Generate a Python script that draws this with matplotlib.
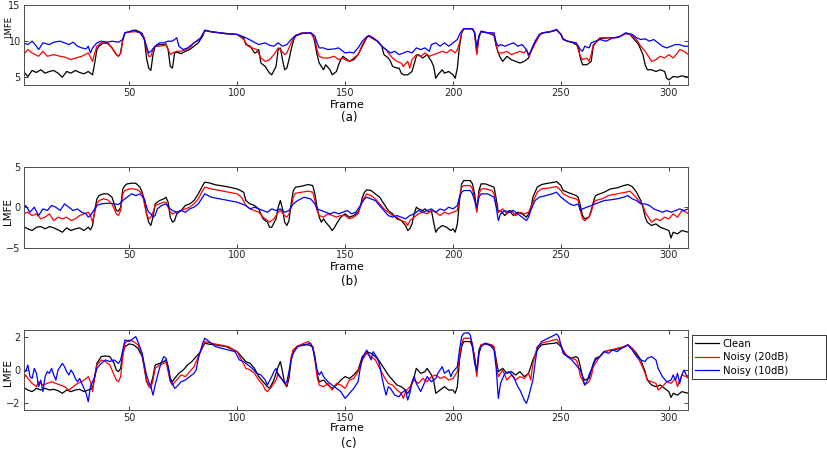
import matplotlib
matplotlib.use('Agg')
import matplotlib.pyplot as plt

# (frame, LMFE), one list per curve
a_clean = [(1,5.81),(3,5.12),(5,5.95),(7,5.67),(9,6.05),(11,5.58),(13,5.81),(15,5.95),(17,5.58),(19,5.02),(21,5.81),(23,5.58),(25,5.95),(27,5.67),(29,5.49),(31,5.81),(33,5.35),(34,6.98),(35,8.84),(36,9.30),(38,9.77),(40,9.67),(42,9.07),(44,8.14),(45,7.91),(46,8.37),(47,10.23),(48,11.16),(50,11.30),(53,11.53),(55,11.26),(56,11.07),(57,10.23),(58,7.67),(59,6.28),(60,5.95),(61,8.14),(62,9.30),(64,9.53),(66,9.53),(67,9.63),(68,8.84),(69,6.51),(70,6.28),(71,8.37),(72,8.47),(74,8.28),(76,8.60),(78,8.84),(80,9.30),(82,9.77),(84,10.70),(85,11.49),(88,11.30),(92,11.16),(95,11.07),(100,10.93),(103,10.47),(104,9.53),(106,9.30),(108,8.37),(109,8.47),(110,8.84),(111,6.98),(113,6.51),(115,5.58),(116,5.35),(118,6.51),(119,8.84),(120,9.07),(121,7.44),(122,6.05),(123,6.28),(124,7.44),(125,8.84),(126,10.0),(127,10.70),(130,11.07),(134,11.16),(135,10.93),(136,9.77),(137,8.14),(138,6.98),(140,6.05),(141,6.74),(143,6.05),(144,5.35),(146,5.81),(147,6.74),(148,7.44),(149,7.91),(150,7.67),(152,7.21),(154,7.44),(156,8.14),(158,9.30),(160,10.47),(161,10.70),(163,10.33),(165,10.0),(167,9.30),(168,8.14),(170,7.67),(171,7.21),(172,6.51),(174,6.28),(175,6.28),(176,5.58),(177,5.35),(179,5.35),(181,5.81),(183,7.91),(184,8.14),(186,7.67),(188,8.14),(189,7.67),(190,7.21),(191,6.51),(192,4.88),(193,5.35),(195,6.05),(196,5.58),(198,5.81),(200,5.35),(201,4.88),(202,6.28),(203,9.30),(204,11.16),(205,11.72),(209,11.72),(210,11.16),(211,8.37),(212,10.70),(213,11.40),(216,11.16),(219,10.79),(220,9.30),(221,8.37),(222,7.67),(223,7.21),(225,7.91),(227,7.44),(229,7.21),(231,6.98),(233,7.21),(235,7.67),(237,9.30),(239,10.23),(240,10.93),(242,11.16),(245,11.30),(248,11.53),(250,10.93),(251,10.23),(253,10.0),(255,9.86),(257,9.53),(258,9.30),(259,7.67),(260,6.74),(262,6.74),(264,7.21),(265,9.30),(266,9.77),(268,10.33),(272,10.47),(275,10.47),(277,10.60),(280,11.07),(282,10.93),(284,10.23),(286,9.53),(288,8.14),(289,6.74),(290,6.05),(292,6.05),(294,5.81),(296,6.05),(298,5.81),(299,4.88),(300,4.65),(302,5.12),(304,5.02),(306,5.21),(309,5.02)]
a_noisy20 = [(1,8.14),(3,8.84),(5,8.37),(8,7.91),(10,8.60),(12,7.91),(15,8.14),(18,7.91),(20,7.81),(23,7.44),(25,7.67),(28,7.91),(31,8.37),(33,7.21),(34,8.37),(35,9.30),(37,9.77),(40,9.77),(42,9.07),(44,8.14),(45,7.91),(46,8.37),(47,10.23),(48,11.16),(50,11.26),(53,11.30),(55,11.16),(57,10.47),(58,8.84),(59,7.91),(60,7.91),(61,8.84),(62,9.30),(64,9.30),(66,9.40),(67,9.53),(68,8.84),(69,8.14),(70,8.37),(72,8.60),(74,8.60),(76,8.84),(78,9.07),(80,9.77),(83,10.47),(85,11.40),(88,11.30),(95,11.02),(100,10.93),(103,10.23),(105,9.30),(107,9.07),(109,8.84),(111,7.67),(113,7.21),(115,7.44),(117,8.14),(119,9.07),(120,8.84),(122,8.14),(123,8.37),(125,9.77),(127,10.79),(130,11.16),(134,11.16),(136,10.23),(137,8.84),(138,7.91),(140,7.67),(142,7.67),(145,7.91),(147,7.44),(149,7.67),(150,7.44),(152,7.21),(154,7.67),(156,8.14),(158,9.53),(160,10.56),(161,10.70),(163,10.33),(165,10.0),(167,9.30),(169,8.84),(170,8.37),(172,7.67),(174,7.21),(176,6.98),(177,6.51),(179,7.21),(180,6.28),(181,7.44),(183,8.14),(185,7.91),(187,8.37),(189,7.91),(191,8.14),(193,8.37),(195,8.60),(197,8.37),(199,8.84),(201,8.37),(202,8.84),(203,9.77),(204,11.16),(205,11.72),(209,11.72),(210,11.16),(211,8.14),(212,10.47),(213,11.30),(216,11.16),(219,10.93),(220,9.53),(221,8.37),(223,8.37),(225,8.60),(227,8.14),(229,8.37),(231,8.60),(233,8.37),(234,8.84),(235,7.91),(237,9.07),(239,10.23),(241,11.16),(245,11.30),(248,11.53),(250,10.93),(251,10.23),(253,10.0),(257,9.77),(258,8.84),(259,7.91),(260,7.44),(262,7.67),(263,7.21),(264,8.14),(265,9.53),(266,9.77),(268,10.47),(272,10.47),(276,10.47),(280,11.07),(283,10.79),(285,10.23),(287,9.30),(289,8.60),(290,8.14),(292,7.21),(294,7.44),(296,7.91),(298,7.67),(300,8.14),(302,7.67),(304,8.37),(305,8.84),(307,8.60),(309,8.14)]
a_noisy10 = [(1,9.77),(3,9.53),(5,10.0),(7,9.30),(8,8.84),(10,9.77),(13,9.53),(15,9.86),(18,10.0),(20,9.77),(22,9.53),(24,9.86),(26,9.30),(28,9.07),(30,8.93),(31,9.30),(32,8.37),(33,9.07),(35,9.77),(37,10.0),(40,9.86),(42,10.0),(45,9.86),(47,10.23),(48,11.16),(50,11.30),(52,11.53),(55,11.16),(57,10.23),(58,9.30),(59,8.37),(60,8.60),(62,9.30),(64,9.77),(66,9.77),(68,10.0),(70,10.0),(72,10.47),(73,9.30),(75,8.84),(77,9.07),(80,9.77),(83,10.33),(85,11.53),(88,11.30),(95,11.02),(100,10.93),(103,10.60),(105,10.33),(107,10.0),(110,9.53),(113,9.77),(115,9.44),(117,9.30),(119,9.77),(121,9.30),(123,9.53),(125,10.23),(127,10.79),(130,11.07),(134,11.16),(136,10.70),(137,9.77),(138,9.07),(140,9.07),(142,8.84),(145,8.93),(147,9.07),(149,8.60),(150,8.37),(152,8.47),(154,8.37),(156,9.07),(158,10.0),(160,10.60),(161,10.79),(163,10.47),(165,10.0),(167,9.30),(169,8.84),(171,8.37),(173,8.60),(175,8.14),(177,8.37),(179,8.60),(181,8.37),(183,9.07),(185,8.84),(187,9.07),(189,8.60),(190,9.53),(192,9.77),(194,9.30),(196,9.77),(198,9.30),(200,9.77),(202,10.23),(203,10.93),(204,11.40),(205,11.72),(209,11.72),(210,11.16),(211,9.30),(212,10.70),(213,11.30),(216,11.16),(219,11.16),(220,9.77),(221,9.30),(222,9.53),(224,9.30),(226,9.53),(228,9.77),(230,9.30),(232,9.53),(234,8.84),(235,8.14),(236,8.60),(238,10.0),(240,10.93),(242,11.16),(245,11.30),(248,11.63),(250,10.93),(251,10.33),(253,10.0),(255,9.86),(257,9.77),(259,8.84),(260,8.60),(261,9.30),(263,9.07),(264,9.77),(266,10.0),(268,10.23),(271,10.0),(274,10.47),(277,10.60),(280,11.16),(283,10.93),(285,10.47),(287,10.23),(289,10.33),(291,10.0),(293,10.23),(295,9.77),(297,9.30),(299,9.07),(301,9.30),(303,9.53),(305,9.53),(307,9.30),(309,9.30)]

b_clean = [(1,-2.39),(3,-2.67),(5,-2.88),(7,-2.47),(9,-2.39),(11,-2.67),(13,-2.39),(15,-2.55),(17,-2.80),(19,-3.09),(21,-2.55),(23,-2.88),(25,-2.67),(27,-2.55),(29,-2.88),(31,-2.47),(32,-2.80),(33,-2.26),(34,-0.41),(35,1.03),(36,1.44),(38,1.65),(40,1.65),(42,1.23),(43,0.41),(44,-0.41),(45,-0.49),(46,0.0),(47,2.26),(48,2.67),(49,2.88),(51,2.96),(53,2.96),(55,2.47),(56,1.85),(57,0.82),(58,-0.82),(59,-1.85),(60,-2.26),(61,-1.23),(62,0.41),(63,0.62),(64,0.82),(66,1.03),(67,1.23),(68,0.62),(69,-1.23),(70,-1.85),(71,-1.65),(72,-0.82),(74,-0.41),(76,0.21),(78,0.41),(80,0.82),(82,1.65),(84,2.67),(85,3.09),(87,3.00),(90,2.76),(95,2.55),(100,2.26),(103,1.85),(104,0.82),(106,0.41),(108,0.21),(110,-0.21),(112,-1.44),(114,-1.85),(115,-2.47),(116,-2.47),(118,-1.44),(119,0.0),(120,0.82),(121,-0.21),(122,-1.85),(123,-2.26),(124,-1.65),(125,0.41),(126,2.06),(127,2.47),(129,2.55),(131,2.67),(133,2.80),(135,2.67),(136,1.65),(137,0.0),(138,-1.23),(139,-1.85),(140,-1.44),(141,-1.85),(143,-2.47),(144,-2.88),(145,-2.55),(146,-2.06),(148,-1.23),(150,-0.82),(152,-1.23),(154,-1.03),(156,-0.62),(157,0.0),(158,1.23),(159,1.85),(160,2.14),(162,2.06),(164,1.65),(166,1.23),(168,0.41),(170,-0.41),(172,-0.82),(174,-1.44),(176,-1.65),(178,-2.26),(179,-2.88),(180,-2.67),(181,-2.06),(182,-0.82),(183,0.0),(184,-0.21),(186,-0.41),(187,-0.21),(189,-0.62),(190,-0.41),(191,-1.85),(192,-3.09),(193,-2.67),(195,-2.26),(197,-2.47),(199,-2.88),(200,-2.67),(201,-3.09),(202,-2.06),(203,0.82),(204,2.88),(205,3.29),(208,3.29),(209,2.88),(210,1.65),(211,-0.41),(212,2.06),(213,2.88),(215,2.88),(217,2.67),(219,2.47),(220,1.03),(221,-0.62),(222,-0.41),(224,-1.03),(226,-0.41),(228,-1.03),(230,-0.62),(232,-0.82),(234,-1.23),(235,-0.82),(236,-0.21),(237,1.23),(239,2.47),(241,2.80),(244,2.96),(247,3.09),(248,3.17),(250,2.67),(251,2.06),(253,1.85),(255,1.65),(257,1.44),(258,1.23),(259,0.21),(260,-1.03),(261,-1.44),(263,-1.23),(264,-0.41),(265,0.62),(266,1.44),(268,1.65),(270,1.85),(273,2.26),(276,2.39),(279,2.67),(281,2.80),(283,2.55),(285,1.85),(287,0.82),(288,0.0),(289,-1.23),(290,-1.85),(292,-2.26),(294,-2.06),(296,-2.47),(298,-2.67),(300,-2.88),(301,-3.79),(302,-3.09),(304,-3.29),(306,-2.88),(309,-3.09)]
b_noisy20 = [(1,-0.82),(3,-0.62),(5,-1.03),(7,-0.82),(9,-1.44),(11,-1.23),(13,-0.82),(15,-1.65),(17,-1.23),(19,-1.44),(21,-1.23),(23,-1.65),(25,-1.44),(27,-1.03),(29,-0.82),(31,-0.62),(32,-1.03),(33,-1.85),(34,-0.62),(35,0.41),(36,0.82),(38,1.03),(40,0.91),(42,0.41),(44,-0.82),(45,-1.03),(46,-0.41),(47,1.65),(48,2.06),(50,2.26),(52,2.26),(54,2.14),(56,1.65),(57,0.41),(58,-0.82),(59,-1.44),(60,-1.23),(61,-0.62),(62,0.21),(64,0.41),(66,0.62),(67,0.62),(68,0.0),(69,-0.62),(70,-0.82),(72,-0.62),(74,-0.41),(76,-0.21),(78,0.0),(80,0.41),(82,1.03),(84,2.06),(85,2.47),(88,2.26),(92,2.06),(96,1.85),(100,1.65),(102,1.23),(104,0.21),(106,-0.21),(108,-0.41),(110,-0.62),(112,-1.23),(114,-1.65),(115,-1.85),(117,-1.44),(119,-0.62),(120,-0.41),(122,-1.03),(123,-1.23),(124,-0.82),(125,0.0),(126,1.23),(127,1.73),(130,1.85),(133,1.98),(135,1.85),(136,0.82),(137,-0.41),(138,-1.03),(140,-1.23),(142,-0.82),(144,-1.03),(146,-1.23),(148,-1.03),(150,-1.03),(152,-1.44),(154,-1.23),(156,-0.82),(158,0.82),(160,1.65),(162,1.44),(164,1.03),(166,0.41),(168,-0.21),(170,-0.62),(172,-1.03),(174,-1.23),(176,-1.65),(178,-1.85),(179,-2.26),(180,-1.65),(182,-1.23),(184,-0.82),(186,-0.62),(188,-0.82),(190,-0.41),(192,-0.62),(194,-1.03),(196,-0.62),(198,-0.82),(200,-0.62),(202,-0.41),(203,1.23),(204,2.47),(205,2.67),(208,2.67),(209,2.26),(210,1.03),(211,-0.62),(212,1.65),(213,2.26),(215,2.26),(218,2.06),(219,1.65),(220,0.21),(221,-0.62),(223,-0.21),(225,-0.82),(227,-0.41),(229,-1.03),(231,-0.62),(233,-0.82),(235,-0.62),(237,0.62),(239,1.85),(241,2.26),(245,2.39),(248,2.55),(250,2.06),(251,1.65),(254,1.23),(257,1.03),(258,0.82),(259,-0.41),(260,-1.44),(261,-1.65),(263,-1.23),(264,-0.62),(265,0.41),(266,0.82),(269,1.03),(272,1.44),(276,1.65),(280,1.85),(282,1.98),(284,1.44),(286,0.82),(288,0.21),(289,-0.62),(290,-1.03),(292,-1.85),(294,-1.44),(296,-1.65),(298,-1.23),(300,-1.44),(302,-0.82),(304,-1.23),(306,-0.41),(308,-0.62),(309,-0.82)]
b_noisy10 = [(1,-0.21),(2,0.21),(4,-0.62),(6,0.0),(8,-1.03),(10,-0.21),(12,-0.41),(14,0.21),(16,0.0),(18,-0.41),(20,0.41),(22,0.0),(24,-0.41),(26,-0.21),(28,-0.62),(30,-0.82),(31,-1.23),(32,-1.03),(33,-0.62),(35,0.21),(37,0.41),(40,0.49),(43,0.41),(45,0.33),(47,0.82),(49,1.23),(51,1.65),(53,1.44),(55,1.65),(57,1.03),(58,0.0),(59,-0.62),(60,-0.82),(61,-1.23),(62,-1.03),(63,-0.21),(65,0.21),(67,0.41),(69,-0.21),(70,-0.41),(72,-0.62),(74,-0.41),(76,-0.62),(78,-0.21),(80,0.0),(82,0.41),(84,1.23),(85,1.65),(88,1.23),(92,1.03),(96,0.82),(100,0.62),(102,0.41),(104,0.21),(106,-0.21),(108,0.0),(110,-0.21),(112,-0.41),(114,-0.62),(116,-0.21),(118,-0.41),(120,-0.21),(122,-0.62),(124,-0.41),(126,0.41),(128,0.82),(131,1.23),(134,1.03),(136,0.41),(137,-0.21),(139,-0.41),(141,-0.62),(143,-0.82),(145,-0.62),(147,-0.82),(149,-0.62),(151,-0.41),(153,-0.82),(155,-0.62),(157,0.21),(159,1.03),(160,1.23),(162,1.03),(164,0.82),(166,0.21),(168,-0.41),(170,-1.03),(172,-1.23),(174,-1.03),(176,-1.23),(178,-1.44),(180,-1.03),(182,-0.82),(184,-0.41),(186,-0.62),(188,-0.41),(190,-0.21),(192,-0.62),(194,-0.21),(196,-0.41),(198,0.0),(200,-0.21),(202,0.21),(203,1.23),(204,1.85),(205,2.06),(208,2.06),(209,1.65),(210,0.82),(211,0.0),(212,1.23),(213,1.65),(216,1.65),(219,1.23),(220,0.0),(221,-1.65),(222,-0.82),(224,-0.41),(226,-0.62),(228,-0.41),(230,-0.82),(232,-1.23),(234,-1.65),(235,-1.23),(236,-0.41),(238,0.82),(240,1.23),(243,1.44),(246,1.65),(248,1.85),(250,1.23),(252,0.82),(254,0.41),(256,0.21),(258,0.41),(259,-0.41),(260,-0.21),(262,0.0),(264,0.21),(266,0.41),(268,0.62),(270,0.82),(273,0.91),(276,1.03),(279,1.23),(281,1.44),(283,1.03),(285,0.82),(287,0.41),(289,0.41),(291,0.21),(293,-0.21),(295,-0.41),(297,-0.62),(299,-0.41),(301,-0.62),(303,-0.41),(305,-0.21),(307,-0.41),(309,-0.21)]

c_clean = [(1,-1.05),(3,-1.21),(5,-1.31),(7,-1.11),(9,-1.21),(11,-1.11),(13,-1.21),(15,-1.17),(17,-1.25),(19,-1.41),(21,-1.21),(23,-1.31),(25,-1.21),(27,-1.17),(29,-1.31),(31,-1.21),(33,-1.11),(34,-0.40),(35,0.40),(37,0.81),(39,0.85),(41,0.81),(43,0.40),(44,0.0),(45,-0.10),(46,0.10),(47,1.01),(48,1.41),(50,1.58),(52,1.52),(54,1.31),(56,0.81),(57,0.10),(58,-0.71),(59,-0.91),(60,-0.91),(61,-0.40),(62,0.30),(64,0.40),(66,0.51),(67,0.61),(68,0.20),(69,-0.51),(70,-0.71),(71,-0.51),(73,-0.20),(75,0.0),(77,0.30),(79,0.51),(81,0.81),(83,1.11),(85,1.62),(87,1.56),(90,1.52),(95,1.41),(100,1.11),(102,0.81),(104,0.51),(106,0.40),(108,0.10),(110,-0.40),(112,-0.71),(114,-1.01),(115,-1.11),(117,-0.61),(119,0.20),(120,0.51),(121,-0.10),(122,-0.81),(123,-1.01),(124,-0.51),(125,0.61),(126,1.21),(128,1.45),(130,1.52),(133,1.52),(135,1.41),(136,0.81),(137,-0.20),(138,-0.71),(140,-0.61),(142,-0.91),(144,-1.11),(146,-0.91),(148,-0.61),(150,-0.40),(152,-0.51),(154,-0.30),(156,0.0),(158,0.81),(160,1.11),(162,1.01),(164,0.81),(166,0.51),(168,0.10),(170,-0.30),(172,-0.61),(174,-0.91),(176,-1.01),(178,-1.21),(179,-1.41),(180,-1.21),(182,-0.40),(183,0.10),(185,-0.20),(187,-0.10),(188,0.10),(190,-0.30),(191,-0.61),(192,-1.41),(194,-1.21),(196,-1.01),(198,-1.21),(200,-1.21),(201,-1.41),(202,-1.01),(203,0.61),(204,1.41),(205,1.72),(208,1.72),(209,1.41),(210,0.81),(211,-0.20),(212,1.21),(213,1.52),(215,1.58),(218,1.45),(219,1.37),(220,0.61),(221,-0.10),(223,0.10),(225,-0.20),(227,-0.10),(229,-0.30),(231,-0.10),(233,-0.40),(235,-0.20),(237,0.61),(239,1.21),(241,1.52),(244,1.58),(247,1.62),(248,1.66),(250,1.41),(252,0.91),(255,0.71),(257,0.81),(258,0.71),(259,0.20),(260,-0.40),(261,-0.61),(263,-0.51),(265,0.40),(266,0.71),(268,0.81),(270,1.11),(273,1.21),(276,1.25),(279,1.37),(281,1.52),(283,1.31),(285,1.01),(287,0.61),(289,-0.10),(290,-0.61),(292,-0.91),(294,-1.01),(296,-0.91),(298,-1.11),(300,-1.31),(301,-1.66),(302,-1.41),(304,-1.52),(306,-1.31),(309,-1.41)]
c_noisy20 = [(1,-0.61),(2,-0.30),(3,-0.51),(5,-0.81),(7,-1.01),(8,-0.71),(10,-0.91),(12,-0.81),(14,-0.71),(16,-0.81),(18,-0.91),(20,-1.01),(22,-1.21),(24,-1.01),(26,-0.81),(28,-0.71),(30,-0.51),(31,-0.40),(32,-0.71),(33,-1.31),(34,-0.40),(35,0.30),(37,0.61),(39,0.51),(41,0.30),(43,-0.30),(44,-0.61),(45,-0.71),(46,-0.40),(47,0.81),(48,1.62),(50,1.82),(52,1.72),(54,1.52),(56,0.91),(57,0.10),(58,-0.61),(59,-1.01),(60,-1.11),(61,-0.61),(62,0.10),(64,0.30),(66,0.40),(67,0.51),(68,-0.10),(69,-0.71),(70,-0.91),(72,-0.61),(74,-0.30),(76,-0.40),(78,-0.10),(80,0.20),(82,0.81),(84,1.41),(85,1.72),(88,1.62),(92,1.52),(96,1.41),(100,1.11),(102,0.61),(104,0.10),(106,0.0),(108,-0.20),(110,-0.61),(112,-0.91),(113,-1.21),(114,-1.31),(116,-1.01),(118,-0.61),(119,-0.20),(120,-0.40),(122,-0.81),(123,-0.91),(124,-0.20),(125,0.81),(126,1.21),(128,1.45),(131,1.62),(133,1.72),(135,1.41),(136,0.61),(137,-0.40),(138,-0.91),(140,-1.01),(142,-0.81),(144,-1.21),(146,-0.81),(148,-0.91),(150,-1.11),(152,-0.61),(154,-0.51),(156,-0.10),(158,0.61),(160,1.01),(162,0.81),(164,0.61),(166,0.10),(168,-0.40),(170,-0.81),(172,-0.91),(174,-1.21),(176,-1.41),(177,-1.72),(178,-1.31),(180,-1.01),(182,-0.61),(184,-0.81),(186,-0.51),(188,-0.71),(190,-0.40),(192,-0.30),(194,-0.51),(196,-0.40),(198,-0.61),(200,-0.51),(202,-0.10),(203,0.81),(204,1.62),(205,1.92),(208,1.92),(209,1.62),(210,0.61),(211,-0.40),(212,1.01),(213,1.52),(215,1.62),(218,1.52),(219,1.41),(220,0.40),(221,-0.40),(223,0.0),(225,-0.61),(227,-0.30),(229,-0.61),(231,-0.40),(233,-0.51),(235,-0.20),(236,-0.61),(237,0.40),(239,1.41),(241,1.62),(244,1.72),(247,1.82),(248,1.86),(250,1.52),(251,1.21),(253,0.81),(255,0.71),(257,0.61),(258,0.30),(259,-0.40),(260,-0.61),(261,-0.91),(263,-0.71),(264,-0.40),(265,0.20),(266,0.40),(268,0.81),(270,1.11),(273,1.21),(276,1.31),(279,1.41),(281,1.52),(283,1.31),(285,0.91),(287,0.40),(289,-0.20),(290,-0.61),(292,-0.71),(294,-0.81),(295,-1.21),(297,-1.01),(299,-0.71),(301,-0.81),(303,-0.51),(304,-1.01),(306,-0.30),(308,-0.40),(309,-0.51)]
c_noisy10 = [(1,0.0),(2,-0.10),(3,0.30),(4,-0.40),(5,-0.51),(6,0.10),(7,-0.20),(8,-1.01),(9,-0.61),(10,-1.31),(11,-0.40),(12,-0.10),(13,-0.20),(14,0.10),(15,-0.30),(16,-0.61),(17,0.0),(18,0.20),(19,0.40),(20,0.20),(21,-0.10),(22,-0.30),(23,0.0),(24,-0.20),(25,-0.51),(26,-0.71),(27,-0.51),(28,-0.81),(29,-1.11),(30,-1.41),(31,-1.92),(32,-1.01),(33,-0.71),(34,-0.40),(35,0.10),(37,0.40),(39,0.61),(41,0.51),(43,0.61),(45,0.40),(46,0.61),(47,1.21),(48,1.82),(50,1.72),(52,1.92),(53,2.02),(54,1.72),(56,1.01),(57,0.30),(58,-0.30),(59,-0.71),(60,-1.01),(61,-1.52),(62,-0.91),(63,-0.40),(64,0.10),(65,0.51),(66,0.81),(67,0.71),(68,0.20),(69,-0.61),(70,-0.81),(71,-1.11),(72,-1.01),(74,-0.71),(76,-0.61),(78,-0.40),(80,-0.20),(81,0.0),(82,0.71),(84,1.62),(85,1.92),(87,1.72),(90,1.41),(93,1.31),(96,1.21),(99,1.11),(101,0.61),(103,0.51),(105,0.30),(107,0.10),(109,-0.20),(111,-0.30),(113,-0.61),(114,-0.91),(116,-0.40),(117,-0.10),(118,0.10),(119,-0.30),(121,-0.61),(122,-0.81),(123,-0.71),(124,-0.10),(125,0.61),(126,1.01),(128,1.41),(131,1.52),(134,1.62),(135,1.31),(136,0.71),(137,0.0),(138,-0.30),(139,-0.10),(140,-0.40),(142,-0.71),(144,-0.91),(146,-1.11),(148,-1.31),(150,-1.72),(152,-1.41),(154,-1.11),(156,-0.71),(157,0.10),(158,0.71),(160,1.21),(161,0.91),(162,0.61),(163,1.11),(165,0.71),(166,0.30),(167,-0.40),(168,-1.01),(169,-1.52),(170,-1.01),(171,-1.11),(173,-1.52),(175,-1.62),(176,-1.41),(178,-1.21),(179,-1.82),(180,-1.41),(181,-0.71),(182,-0.40),(183,-0.81),(185,-1.31),(186,-1.01),(188,-0.40),(190,-0.71),(192,-0.51),(193,-0.20),(195,0.20),(196,-0.20),(198,0.0),(199,-0.40),(200,-0.10),(202,0.20),(203,1.21),(204,2.02),(205,2.22),(207,2.26),(208,2.12),(209,1.41),(210,0.40),(211,0.0),(212,1.01),(213,1.41),(215,1.62),(217,1.52),(219,1.21),(220,0.10),(221,-1.72),(222,-0.81),(223,-0.51),(224,-0.20),(226,-0.10),(228,-0.40),(230,-1.01),(231,-1.21),(233,-1.82),(234,-2.02),(235,-1.62),(236,-1.11),(237,-0.61),(238,0.40),(239,1.31),(241,1.72),(244,1.92),(247,2.12),(248,2.18),(249,2.02),(250,1.52),(251,1.01),(253,0.81),(255,0.61),(257,0.30),(259,0.0),(260,-0.40),(261,-0.91),(262,-0.71),(263,-0.30),(264,0.0),(265,0.30),(266,0.61),(268,0.81),(270,1.11),(272,1.01),(274,1.21),(276,1.11),(278,1.31),(280,1.45),(281,1.52),(283,1.21),(285,0.81),(287,0.61),(289,0.51),(290,0.71),(292,0.81),(294,0.61),(295,0.10),(297,-0.40),(299,-0.71),(301,-0.61),(302,-0.30),(303,-0.61),(304,-0.20),(305,-0.81),(306,-0.30),(307,0.0),(308,-0.30),(309,-0.40)]

labels = ['Clean', 'Noisy (20dB)', 'Noisy (10dB)']
colors = ['black', '#ff0000', '#0000ff']
xticks = [50, 100, 150, 200, 250, 300]

W, H = 827, 450
fig = plt.figure(figsize=(W / 100, H / 100), dpi=100)

# (series, ylim, yticks, axes top px, axes bottom px, ylabel y px, ylabel size,
#  frame label px, letter px, letter)
panels = [
    ((a_clean, a_noisy20, a_noisy10), (3.9, 15), [5, 10, 15], 5, 85.3, 27, 6, 105, 118, '(a)'),
    ((b_clean, b_noisy20, b_noisy10), (-5, 5), [-5, 0, 5], 166.7, 247.7, 212, 7.5, 267, 282, '(b)'),
    ((c_clean, c_noisy20, c_noisy10), (-2.42, 2.42), [-2, 0, 2], 330, 410, 372, 7.5, 428, 443, '(c)'),
]

left_px, right_px = 23.5, 688.3
for series, ylim, yticks, top, bot, ylab_y, ylab_fs, frame_y, let_y, letter in panels:
    ax = fig.add_axes([left_px / W, 1 - bot / H, (right_px - left_px) / W, (bot - top) / H])
    for s, c, lab in zip(series, colors, labels):
        f, v = zip(*s)
        ax.plot(f, v, color=c, lw=0.9, label=lab)
    ax.set_xlim(1, 309)
    ax.set_ylim(*ylim)
    ax.set_xticks(xticks)
    ax.set_yticks(yticks)
    ax.tick_params(direction='in', top=True, right=True, length=3, width=0.6,
                   labelsize=7, pad=2, colors='0.15')
    for sp in ax.spines.values():
        sp.set_color('0.3')
        sp.set_linewidth(0.7)
    # ylabel sits hard against the left edge, as in the reference
    fig.text(8.5 / W, 1 - ylab_y / H, 'LMFE', fontsize=ylab_fs, rotation=90,
             ha='center', va='center')
    fig.text(347 / W, 1 - frame_y / H, 'Frame', fontsize=8, ha='center', va='center')
    fig.text(349 / W, 1 - let_y / H, letter, fontsize=8.5, ha='center', va='center')

handles, labs = ax.get_legend_handles_labels()
leg = fig.legend(handles, labs, loc='upper left',
                 bbox_to_anchor=(691.7 / W, 1 - 383 / H, 134 / W, 48 / H), mode='expand',
                 borderaxespad=0, fontsize=7.3, handlelength=2.3, handletextpad=0.4,
                 labelspacing=0.35, borderpad=0.35, fancybox=False, framealpha=1)
leg.get_frame().set_edgecolor('0.2')
leg.get_frame().set_linewidth(0.7)

fig.savefig('out.png', dpi=100)
